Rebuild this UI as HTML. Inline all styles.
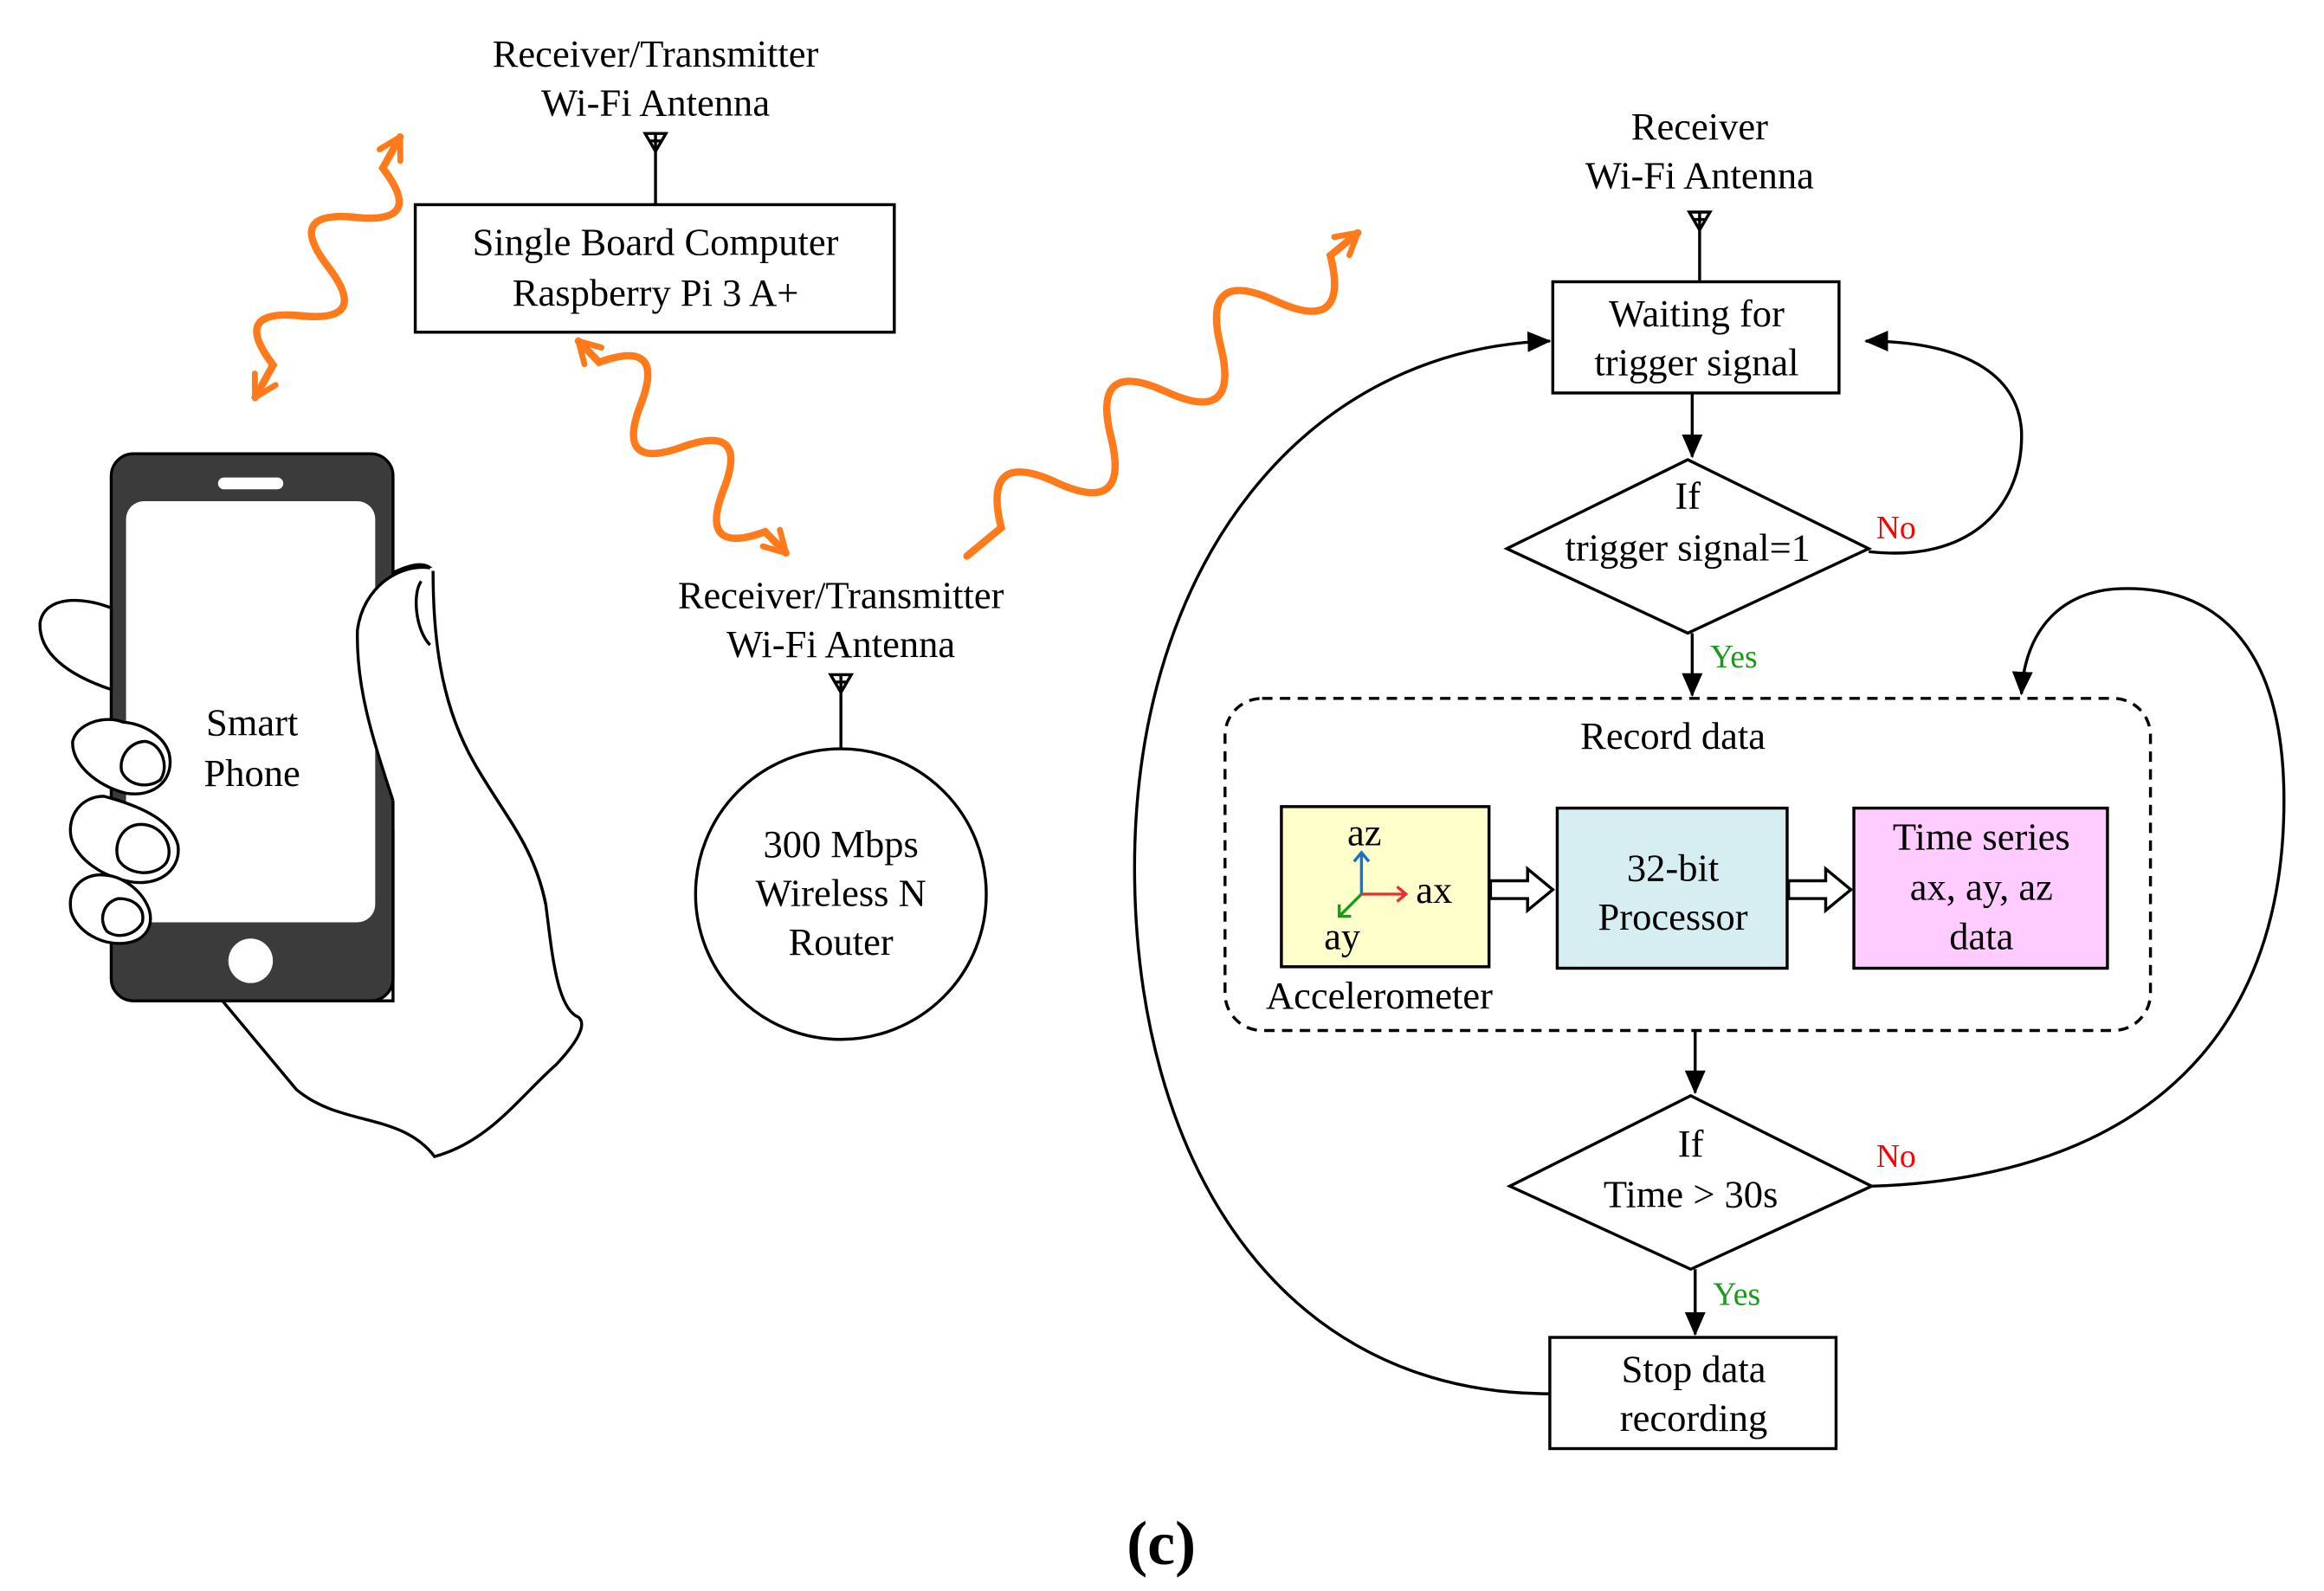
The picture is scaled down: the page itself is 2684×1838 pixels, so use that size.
<!DOCTYPE html>
<html><head><meta charset="utf-8"><style>
html,body{margin:0;padding:0;background:#fff;}
svg{display:block;}
text{font-family:"Liberation Serif",serif;font-size:26px;fill:#000;}
</style></head><body>
<svg width="2684" height="1838" viewBox="0 0 1567 1073" xmlns="http://www.w3.org/2000/svg">
<defs>
<marker id="oa" viewBox="0 0 20 20" refX="18" refY="10" markerWidth="20" markerHeight="20" markerUnits="userSpaceOnUse" orient="auto-start-reverse">
<path d="M4,2 L18,10 L4,18" fill="none" stroke="#ff7a1a" stroke-width="4" stroke-linecap="round"/>
</marker>
<marker id="ba" viewBox="0 0 16 16" refX="15" refY="8" markerWidth="16" markerHeight="16" markerUnits="userSpaceOnUse" orient="auto">
<path d="M0,1 L16,8 L0,15 Z" fill="#000"/>
</marker>
</defs>
<rect width="1567" height="1073" fill="#fff"/>

<text x="442" y="45" text-anchor="middle">Receiver/Transmitter</text>
<text x="442" y="78" text-anchor="middle">Wi-Fi Antenna</text>
<g stroke="#000" stroke-width="2" fill="none">
<path d="M435,90 L449,90 L442,102 Z M438,95 L446,95"/>
<line x1="442" y1="90" x2="442" y2="138"/>
<rect x="280" y="138" width="323" height="86"/>
</g>
<text x="442" y="172" text-anchor="middle">Single Board Computer</text>
<text x="442" y="206" text-anchor="middle">Raspberry Pi 3 A+</text>

<g fill="none" stroke="#ff7a1a" stroke-width="5" stroke-linecap="round">
<path transform="translate(172,268) rotate(-60.9)" marker-start="url(#oa)" marker-end="url(#oa)" d="M0,0 L25,0 q19,-44 38,0 t38,0 t38,0 t38,0 L201,0"/>
<path transform="translate(390,230) rotate(45.6)" marker-start="url(#oa)" marker-end="url(#oa)" d="M0,0 L20,0 q20,-44 40,0 t40,0 t40,0 t40,0 L200,0"/>
<path transform="translate(652,375) rotate(-39.6)" marker-end="url(#oa)" d="M0,0 L30,0 q24,-50 48,0 t48,0 t48,0 t48,0 t48,0 t48,0 L342,0"/>
</g>

<g fill="#fff" stroke="#000" stroke-width="2">
<path d="M150,675 L200,735 C230,760 270,750 293,780 C330,770 350,740 375,718 C392,700 395,690 390,686 C375,680 372,640 368,610 C360,570 340,550 320,515 C300,480 292,440 292,385 C285,375 265,385 250,395 C238,410 240,450 250,490 C258,520 262,540 265,560 L265,675 Z"/>
</g>
<rect x="75" y="306" width="190" height="369" rx="15" fill="#3b3b3b" stroke="#000" stroke-width="2"/>
<rect x="85" y="338" width="168" height="284" rx="12" fill="#fff"/>
<rect x="147" y="322" width="44" height="8" rx="4" fill="#fff"/>
<circle cx="169" cy="648" r="15" fill="#fff"/>
<path d="M290,383 C270,380 245,395 241,425 C240,465 252,500 265,540 L300,540 L300,383 Z" fill="#fff"/>
<g fill="#fff" stroke="#000" stroke-width="2">
<path d="M290,383 C270,380 245,395 241,425 C240,465 252,500 265,540" fill="none"/>
<path d="M292,385 C292,440 300,480 320,515 C340,550 360,570 368,610" fill="none"/>
<path d="M284,392 C278,400 280,425 290,435" fill="none"/>
<path d="M75,410 C55,402 30,402 27,420 C26,440 45,455 75,465 Z"/>
<path d="M83,487 C70,482 52,488 49,500 C48,515 65,530 85,535 C105,538 118,525 114,508 C110,495 95,488 83,487 Z"/>
<path d="M98,500 C88,500 80,510 82,520 C86,530 100,532 108,526 C114,518 110,502 98,500 Z"/>
<path d="M70,537 C55,537 45,550 48,565 C52,580 70,592 90,595 C110,597 122,585 120,570 C116,555 100,545 70,537 Z"/>
<path d="M95,556 C82,556 76,570 80,580 C86,590 104,592 112,582 C118,572 110,556 95,556 Z"/>
<path d="M68,590 C55,590 45,600 48,615 C52,628 68,638 85,636 C100,634 104,622 100,612 C95,600 82,590 68,590 Z"/>
<path d="M80,606 C70,608 66,620 72,628 C80,634 92,630 96,622 C98,612 90,606 80,606 Z"/>
</g>
<text x="170" y="496" text-anchor="middle">Smart</text>
<text x="170" y="530" text-anchor="middle">Phone</text>

<text x="567" y="410" text-anchor="middle">Receiver/Transmitter</text>
<text x="567" y="443" text-anchor="middle">Wi-Fi Antenna</text>
<g stroke="#000" stroke-width="2" fill="none">
<path d="M560,455 L574,455 L567,467 Z M563,460 L571,460"/>
<line x1="567" y1="455" x2="567" y2="505"/>
<circle cx="567" cy="603" r="98"/>
</g>
<text x="567" y="578" text-anchor="middle">300 Mbps</text>
<text x="567" y="611" text-anchor="middle">Wireless N</text>
<text x="567" y="644" text-anchor="middle">Router</text>

<text x="1146" y="94" text-anchor="middle">Receiver</text>
<text x="1146" y="127" text-anchor="middle">Wi-Fi Antenna</text>
<g stroke="#000" stroke-width="2" fill="none">
<path d="M1139,143 L1153,143 L1146,155 Z M1142,148 L1150,148"/>
<line x1="1146" y1="143" x2="1146" y2="190"/>
<rect x="1047" y="190" width="193" height="75"/>
<line x1="1141" y1="265" x2="1141" y2="308" marker-end="url(#ba)"/>
<path d="M1016,370 L1138,310 L1260,370 L1138,427 Z"/>
<path d="M1260,372 C1330,380 1365,340 1363,290 C1360,250 1320,230 1258,230" marker-end="url(#ba)"/>
<line x1="1141" y1="427" x2="1141" y2="469" marker-end="url(#ba)"/>
<rect x="826" y="471" width="624" height="224" rx="25" stroke-dasharray="7,5"/>
<line x1="1143" y1="695" x2="1143" y2="737" marker-end="url(#ba)"/>
<path d="M1018,800 L1140,739 L1262,800 L1140,856 Z"/>
<path d="M1262,800 C1420,795 1540,720 1540,540 C1540,430 1490,395 1430,397 C1390,398 1365,425 1363,468" marker-end="url(#ba)"/>
<line x1="1143" y1="856" x2="1143" y2="900" marker-end="url(#ba)"/>
<rect x="1045" y="902" width="193" height="75"/>
<path d="M1045,940 C860,940 765,780 765,585 C765,380 880,235 1045,230" marker-end="url(#ba)"/>
</g>
<text x="1144" y="220" text-anchor="middle">Waiting for</text>
<text x="1144" y="253" text-anchor="middle">trigger signal</text>
<text x="1138" y="343" text-anchor="middle">If</text>
<text x="1138" y="378" text-anchor="middle">trigger signal=1</text>
<text x="1265" y="363" style="fill:#ff0000;font-size:22px">No</text>
<text x="1153" y="450" style="fill:#1a9a1a;font-size:22px">Yes</text>
<text x="1128" y="505" text-anchor="middle">Record data</text>

<rect x="864" y="544" width="140" height="108" fill="#ffffcc" stroke="#000" stroke-width="2"/>
<g stroke-width="2" fill="none">
<path d="M918,603 L918,575 M913,581 L918,575 L923,581" stroke="#1a6fd0"/>
<path d="M918,603 L948,603 M942,598 L948,603 L942,608" stroke="#e83030"/>
<path d="M918,603 L903,618 M903,610 L903,618 L911,618" stroke="#1a9a1a"/>
</g>
<text x="920" y="570" text-anchor="middle">az</text>
<text x="967" y="609" text-anchor="middle">ax</text>
<text x="905" y="640" text-anchor="middle">ay</text>
<text x="930" y="680" text-anchor="middle">Accelerometer</text>

<g fill="#fff" stroke="#000" stroke-width="2">
<path d="M1005,594 L1030,594 L1030,586 L1047,600 L1030,614 L1030,606 L1005,606 Z"/>
<path d="M1206,594 L1231,594 L1231,586 L1248,600 L1231,614 L1231,606 L1206,606 Z"/>
</g>
<rect x="1050" y="545" width="155" height="108" fill="#d6eef2" stroke="#000" stroke-width="2"/>
<text x="1128" y="594" text-anchor="middle">32-bit</text>
<text x="1128" y="627" text-anchor="middle">Processor</text>
<rect x="1250" y="545" width="171" height="108" fill="#ffccff" stroke="#000" stroke-width="2"/>
<text x="1336" y="573" text-anchor="middle">Time series</text>
<text x="1336" y="607" text-anchor="middle">ax, ay, az</text>
<text x="1336" y="640" text-anchor="middle">data</text>

<text x="1140" y="780" text-anchor="middle">If</text>
<text x="1140" y="814" text-anchor="middle">Time &gt; 30s</text>
<text x="1265" y="787" style="fill:#ff0000;font-size:22px">No</text>
<text x="1155" y="880" style="fill:#1a9a1a;font-size:22px">Yes</text>
<text x="1142" y="932" text-anchor="middle">Stop data</text>
<text x="1142" y="965" text-anchor="middle">recording</text>

<text x="783" y="1055" text-anchor="middle" style="font-size:42px;font-weight:bold">(c)</text>
</svg>
</body></html>
